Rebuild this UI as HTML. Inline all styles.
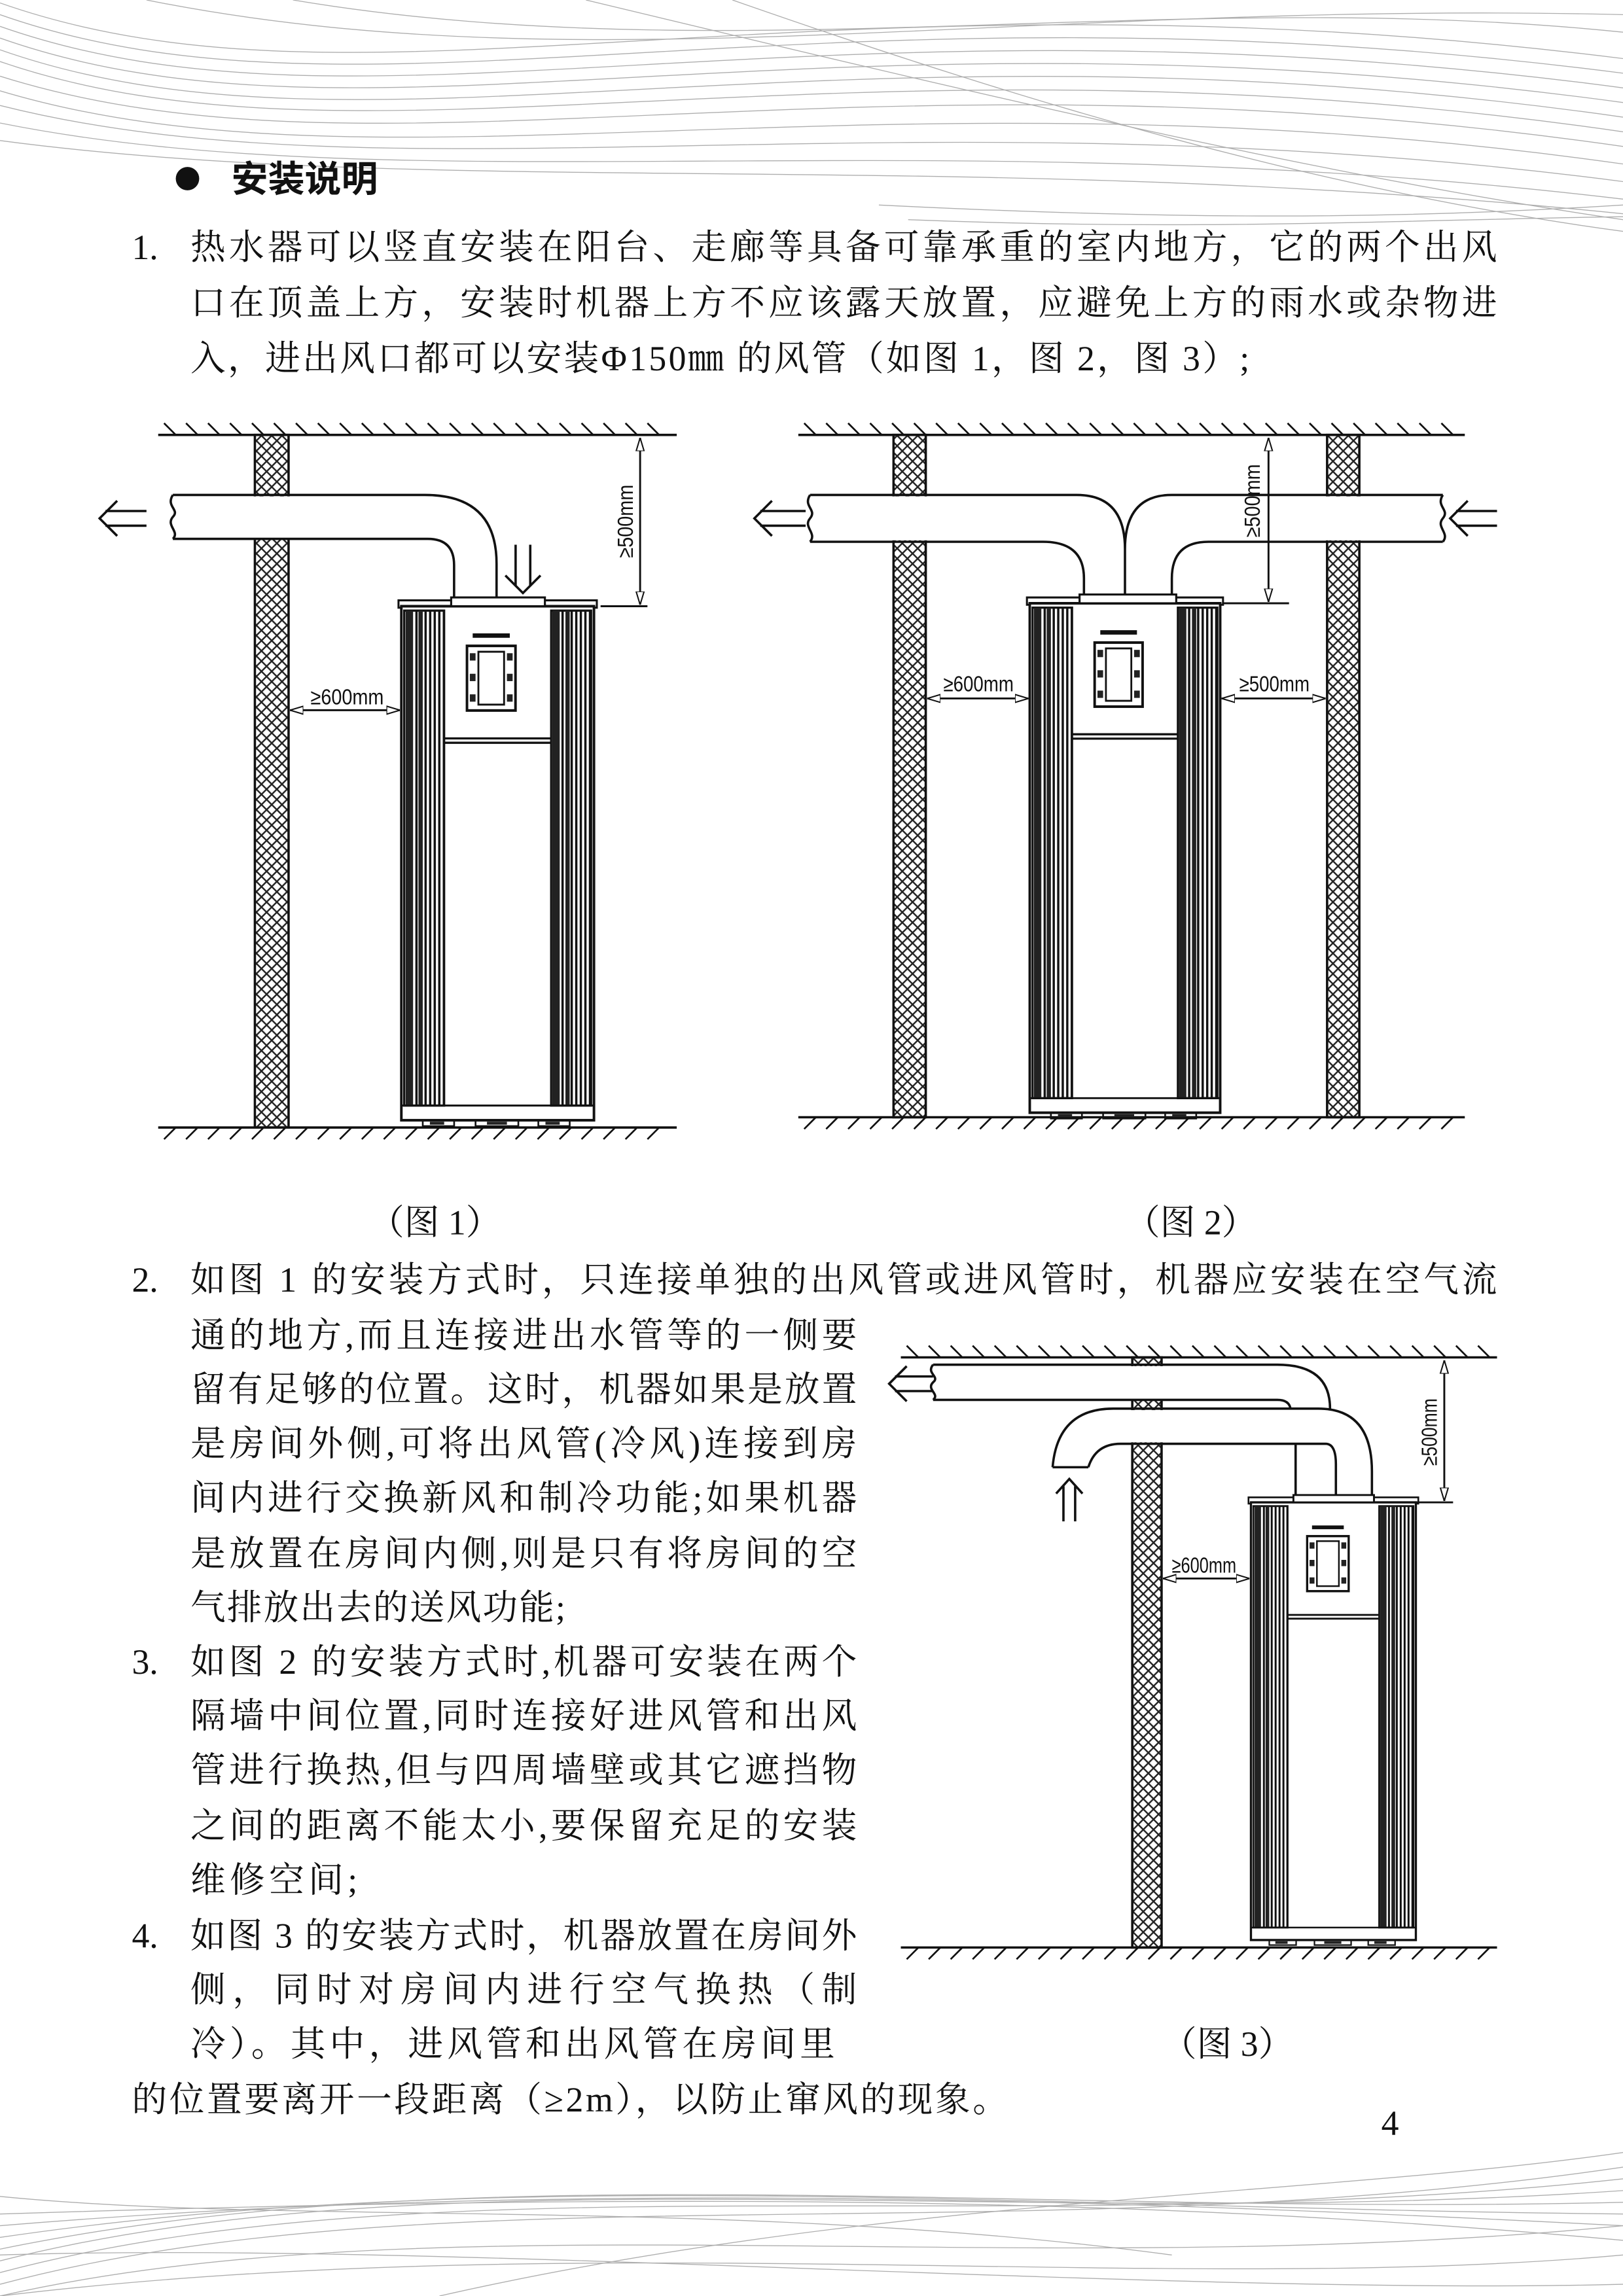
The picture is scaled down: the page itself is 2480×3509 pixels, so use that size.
<!DOCTYPE html>
<html><head><meta charset="utf-8"><style>
html,body{margin:0;padding:0;background:#fff;}
svg{display:block;}
.t{font-family:"Liberation Serif","Noto Serif CJK SC",serif;font-size:24px;fill:#111;}
.d{font-family:"Liberation Sans","Noto Sans CJK SC",sans-serif;font-size:15px;fill:#111;}
.l{fill:none;stroke:#111;stroke-width:1.6;}
</style></head><body>
<svg width="2480" height="3509" viewBox="0 0 1108 1568" preserveAspectRatio="none" xmlns="http://www.w3.org/2000/svg">
<defs>
<pattern id="xh" patternUnits="userSpaceOnUse" width="7" height="7">
<path d="M0,0 L7,7 M7,0 L0,7" stroke="#222" stroke-width="1.1"/>
</pattern>
<pattern id="vl" patternUnits="userSpaceOnUse" width="3.2" height="10">
<rect width="3.2" height="10" fill="#fff"/><line x1="1" y1="0" x2="1" y2="10" stroke="#111" stroke-width="1.6"/>
</pattern>
<marker id="ar" viewBox="0 0 10 10" refX="10" refY="5" markerWidth="7" markerHeight="7" orient="auto-start-reverse">
<path d="M0,2 L10,5 L0,8 Z" fill="#fff" stroke="#111" stroke-width="1"/>
</marker>
<g id="unit">
<rect x="-2" y="-4" width="139" height="5" fill="#fff" stroke="#111" stroke-width="1.4"/>
<rect x="0" y="0" width="135" height="350" fill="#fff" stroke="#111" stroke-width="1.8"/>
<rect x="2" y="3" width="28" height="337" fill="url(#vl)" stroke="#111" stroke-width="1.5"/>
<rect x="105" y="3" width="28" height="337" fill="url(#vl)" stroke="#111" stroke-width="1.5"/>
<rect x="3" y="3" width="5" height="337" fill="#222"/>
<rect x="106" y="3" width="5" height="337" fill="#222"/>
<rect x="12" y="3" width="3" height="337" fill="#222"/>
<rect x="115" y="3" width="3" height="337" fill="#222"/>
<line x1="30" y1="90" x2="105" y2="90" stroke="#111" stroke-width="1.5"/>
<line x1="30" y1="93" x2="105" y2="93" stroke="#111" stroke-width="1.5"/>
<line x1="0" y1="340" x2="135" y2="340" stroke="#111" stroke-width="1.3"/>
<path d="M50,20 h26" stroke="#111" stroke-width="3"/>
<rect x="46" y="27" width="34" height="44" fill="#fff" stroke="#111" stroke-width="1.8"/>
<rect x="54" y="31" width="18" height="36" fill="#fff" stroke="#111" stroke-width="1.3"/>
<rect x="48" y="32" width="4" height="5" fill="#222"/><rect x="48" y="46" width="4" height="5" fill="#222"/><rect x="48" y="60" width="4" height="5" fill="#222"/>
<rect x="74" y="32" width="4" height="5" fill="#222"/><rect x="74" y="46" width="4" height="5" fill="#222"/><rect x="74" y="60" width="4" height="5" fill="#222"/>
<path d="M15,350 v4 h22 v-4 M52,350 v4 h30 v-4 M96,350 v4 h22 v-4" fill="none" stroke="#111" stroke-width="1.2"/>
<rect x="20" y="351" width="10" height="2" fill="#222"/><rect x="60" y="351" width="14" height="2" fill="#222"/><rect x="101" y="351" width="10" height="2" fill="#222"/>
</g>
</defs>

<g fill="none" stroke="#9a9a9a" stroke-width="0.6" opacity="0.8">
<path d="M0,2 C250,90 550,-30 1108,40"/><path d="M0,10 C250,98 550,-22 1108,50"/><path d="M0,18 C250,106 550,-14 1108,60"/><path d="M0,26 C250,114 550,-6 1108,70"/><path d="M0,34 C250,122 560,2 1108,80"/><path d="M0,42 C250,128 570,12 1108,90"/><path d="M0,52 C260,134 580,24 1108,100"/><path d="M0,62 C260,140 600,40 1108,112"/><path d="M0,72 C270,140 620,60 1108,124"/><path d="M0,84 C280,140 640,80 1108,136"/><path d="M0,96 C300,136 660,100 1108,146"/>
<path d="M100,0 C400,60 700,0 1108,10"/><path d="M200,0 C500,50 800,-10 1108,22"/><path d="M400,0 C650,60 900,120 1108,150"/><path d="M500,0 C700,70 900,130 1108,158"/><path d="M600,140 C800,150 950,150 1108,140"/><path d="M620,150 C820,158 960,150 1108,148"/>
<path d="M0,1560 C300,1480 700,1540 1108,1480"/><path d="M0,1552 C300,1472 700,1532 1108,1488"/><path d="M0,1544 C300,1468 700,1524 1108,1496"/><path d="M0,1536 C320,1470 700,1514 1108,1504"/><path d="M0,1528 C340,1478 700,1508 1108,1512"/><path d="M0,1520 C360,1490 720,1500 1108,1520"/><path d="M0,1512 C380,1500 740,1496 1108,1530"/><path d="M0,1568 C300,1500 700,1560 1108,1520"/><path d="M0,1568 C400,1520 800,1568 1108,1540"/><path d="M0,1540 C300,1530 800,1568 1108,1560"/><path d="M300,1568 C600,1500 900,1500 1108,1470"/><path d="M0,1500 C200,1520 500,1500 800,1540"/>
</g>

<circle cx="128" cy="122" r="8" fill="#111"/>
<text x="158" y="131" style="font-family:'Liberation Sans','Noto Sans CJK SC',sans-serif;font-size:25px;font-weight:bold;fill:#111">安装说明</text>
<text class="t" x="90" y="177">1.</text>
<text class="t" x="130" y="177" textLength="892" lengthAdjust="spacing">热水器可以竖直安装在阳台、走廊等具备可靠承重的室内地方，它的两个出风</text>
<text class="t" x="130" y="215" textLength="892" lengthAdjust="spacing">口在顶盖上方，安装时机器上方不应该露天放置，应避免上方的雨水或杂物进</text>
<text class="t" x="130" y="253" textLength="723" lengthAdjust="spacing">入，进出风口都可以安装Φ150㎜ 的风管（如图 1，图 2，图 3）;</text>

<!-- FIG 1 -->
<path d="M108,297 H462 M108,770 H462" class="l"/>
<path d="M112,289 l8,8 M127,289 l8,8 M142,289 l8,8 M157,289 l8,8 M172,289 l8,8 M187,289 l8,8 M202,289 l8,8 M217,289 l8,8 M232,289 l8,8 M247,289 l8,8 M262,289 l8,8 M277,289 l8,8 M292,289 l8,8 M307,289 l8,8 M322,289 l8,8 M337,289 l8,8 M352,289 l8,8 M367,289 l8,8 M382,289 l8,8 M397,289 l8,8 M412,289 l8,8 M427,289 l8,8 M442,289 l8,8" stroke="#111" stroke-width="1.2"/>
<path d="M120,770 l-8,8 M135,770 l-8,8 M150,770 l-8,8 M165,770 l-8,8 M180,770 l-8,8 M195,770 l-8,8 M210,770 l-8,8 M225,770 l-8,8 M240,770 l-8,8 M255,770 l-8,8 M270,770 l-8,8 M285,770 l-8,8 M300,770 l-8,8 M315,770 l-8,8 M330,770 l-8,8 M345,770 l-8,8 M360,770 l-8,8 M375,770 l-8,8 M390,770 l-8,8 M405,770 l-8,8 M420,770 l-8,8 M435,770 l-8,8 M450,770 l-8,8" stroke="#111" stroke-width="1.2"/>
<rect x="174" y="297" width="23" height="473" fill="url(#xh)" stroke="#111" stroke-width="1.6"/>
<rect x="172" y="339" width="27" height="29" fill="#fff"/>
<path d="M118,338 H290 Q339,338 339,385 V408 M118,368 H292 Q310,368 310,386 V408" class="l"/>
<path d="M118,338 c-5,8 5,10 0,15 c-5,6 5,10 0,15" class="l"/>
<use href="#unit" transform="translate(274,414) scale(0.974,1.003)"/>
<rect x="308" y="408" width="64" height="6" fill="#fff" stroke="#111" stroke-width="1.4"/>
<path d="M80,342 L68,354 L80,366 M72,349 H100 M72,359 H100" class="l"/>
<path d="M345,393 L357,405 L369,393 M352,372 V400 M362,372 V400" class="l"/>
<line x1="437" y1="299" x2="437" y2="413" stroke="#111" stroke-width="1.3" marker-start="url(#ar)" marker-end="url(#ar)"/>
<line x1="410" y1="414" x2="442" y2="414" stroke="#111" stroke-width="1.3"/>
<text class="d" transform="translate(432,356) rotate(-90)" text-anchor="middle" textLength="50" lengthAdjust="spacingAndGlyphs">≥500mm</text>
<line x1="198" y1="485" x2="273" y2="485" stroke="#111" stroke-width="1.3" marker-start="url(#ar)" marker-end="url(#ar)"/>
<text class="d" x="237" y="481" text-anchor="middle" textLength="50" lengthAdjust="spacingAndGlyphs">≥600mm</text>

<!-- FIG 2 -->
<path d="M545,297 H1000 M545,763 H1000" class="l"/>
<path d="M549,289 l8,8 M564,289 l8,8 M579,289 l8,8 M594,289 l8,8 M609,289 l8,8 M624,289 l8,8 M639,289 l8,8 M654,289 l8,8 M669,289 l8,8 M684,289 l8,8 M699,289 l8,8 M714,289 l8,8 M729,289 l8,8 M744,289 l8,8 M759,289 l8,8 M774,289 l8,8 M789,289 l8,8 M804,289 l8,8 M819,289 l8,8 M834,289 l8,8 M849,289 l8,8 M864,289 l8,8 M879,289 l8,8 M894,289 l8,8 M909,289 l8,8 M924,289 l8,8 M939,289 l8,8 M954,289 l8,8 M969,289 l8,8 M984,289 l8,8" stroke="#111" stroke-width="1.2"/>
<path d="M557,763 l-8,8 M572,763 l-8,8 M587,763 l-8,8 M602,763 l-8,8 M617,763 l-8,8 M632,763 l-8,8 M647,763 l-8,8 M662,763 l-8,8 M677,763 l-8,8 M692,763 l-8,8 M707,763 l-8,8 M722,763 l-8,8 M737,763 l-8,8 M752,763 l-8,8 M767,763 l-8,8 M782,763 l-8,8 M797,763 l-8,8 M812,763 l-8,8 M827,763 l-8,8 M842,763 l-8,8 M857,763 l-8,8 M872,763 l-8,8 M887,763 l-8,8 M902,763 l-8,8 M917,763 l-8,8 M932,763 l-8,8 M947,763 l-8,8 M962,763 l-8,8 M977,763 l-8,8 M992,763 l-8,8" stroke="#111" stroke-width="1.2"/>
<rect x="610" y="297" width="22" height="466" fill="url(#xh)" stroke="#111" stroke-width="1.6"/>
<rect x="906" y="297" width="22" height="466" fill="url(#xh)" stroke="#111" stroke-width="1.6"/>
<rect x="608" y="339" width="26" height="30" fill="#fff"/>
<rect x="904" y="339" width="26" height="30" fill="#fff"/>
<path d="M553,370 H712 Q740,370 740,395 V408 M553,338 H735 Q768,338 768,375 V408 M985,370 H825 Q800,370 800,395 V408 M985,338 H800 Q768,338 768,375" class="l"/>
<path d="M553,338 c-5,8 5,10 0,16 c-5,6 5,10 0,16 M985,338 c-5,8 5,10 0,16 c-5,6 5,10 0,16" class="l"/>
<use href="#unit" transform="translate(703,412) scale(0.963,0.994)"/>
<rect x="737" y="406" width="66" height="6" fill="#fff" stroke="#111" stroke-width="1.4"/>
<path d="M527,342 L515,354 L527,366 M519,349 H550 M519,359 H550" class="l"/>
<path d="M1002,342 L990,354 L1002,366 M994,349 H1022 M994,359 H1022" class="l"/>
<line x1="866" y1="299" x2="866" y2="411" stroke="#111" stroke-width="1.3" marker-start="url(#ar)" marker-end="url(#ar)"/>
<line x1="835" y1="412" x2="880" y2="412" stroke="#111" stroke-width="1.3"/>
<text class="d" transform="translate(860,342) rotate(-90)" text-anchor="middle" textLength="50" lengthAdjust="spacingAndGlyphs">≥500mm</text>
<line x1="633" y1="477" x2="702" y2="477" stroke="#111" stroke-width="1.3" marker-start="url(#ar)" marker-end="url(#ar)"/>
<text class="d" x="668" y="472" text-anchor="middle" textLength="48" lengthAdjust="spacingAndGlyphs">≥600mm</text>
<line x1="834" y1="477" x2="905" y2="477" stroke="#111" stroke-width="1.3" marker-start="url(#ar)" marker-end="url(#ar)"/>
<text class="d" x="870" y="472" text-anchor="middle" textLength="48" lengthAdjust="spacingAndGlyphs">≥500mm</text>

<text class="t" x="252" y="843">（图 1）</text>
<text class="t" x="768" y="843">（图 2）</text>

<text class="t" x="90" y="882">2.</text>
<text class="t" x="130" y="882" textLength="892" lengthAdjust="spacing">如图 1 的安装方式时，只连接单独的出风管或进风管时，机器应安装在空气流</text>
<text class="t" x="130" y="920" textLength="455" lengthAdjust="spacing">通的地方,而且连接进出水管等的一侧要</text>
<text class="t" x="130" y="957" textLength="455" lengthAdjust="spacing">留有足够的位置。这时，机器如果是放置</text>
<text class="t" x="130" y="994" textLength="455" lengthAdjust="spacing">是房间外侧,可将出风管(冷风)连接到房</text>
<text class="t" x="130" y="1031" textLength="455" lengthAdjust="spacing">间内进行交换新风和制冷功能;如果机器</text>
<text class="t" x="130" y="1069" textLength="455" lengthAdjust="spacing">是放置在房间内侧,则是只有将房间的空</text>
<text class="t" x="130" y="1106" textLength="256" lengthAdjust="spacing">气排放出去的送风功能;</text>
<text class="t" x="90" y="1143">3.</text>
<text class="t" x="130" y="1143" textLength="455" lengthAdjust="spacing">如图 2 的安装方式时,机器可安装在两个</text>
<text class="t" x="130" y="1180" textLength="455" lengthAdjust="spacing">隔墙中间位置,同时连接好进风管和出风</text>
<text class="t" x="130" y="1217" textLength="455" lengthAdjust="spacing">管进行换热,但与四周墙壁或其它遮挡物</text>
<text class="t" x="130" y="1255" textLength="455" lengthAdjust="spacing">之间的距离不能太小,要保留充足的安装</text>
<text class="t" x="130" y="1292" textLength="114" lengthAdjust="spacing">维修空间;</text>
<text class="t" x="90" y="1330">4.</text>
<text class="t" x="130" y="1330" textLength="455" lengthAdjust="spacing">如图 3 的安装方式时，机器放置在房间外</text>
<text class="t" x="130" y="1367" textLength="455" lengthAdjust="spacing">侧，同时对房间内进行空气换热（制</text>
<text class="t" x="130" y="1404" textLength="440" lengthAdjust="spacing">冷）。其中，进风管和出风管在房间里</text>
<text class="t" x="90" y="1442" textLength="598" lengthAdjust="spacing">的位置要离开一段距离（≥2m），以防止窜风的现象。</text>
<text class="t" x="793" y="1404">（图 3）</text>
<text class="t" x="943" y="1458">4</text>

<!-- FIG 3 -->
<path d="M615,927 H1022 M615,1330 H1022" class="l"/>
<path d="M619,919 l8,8 M634,919 l8,8 M649,919 l8,8 M664,919 l8,8 M679,919 l8,8 M694,919 l8,8 M709,919 l8,8 M724,919 l8,8 M739,919 l8,8 M754,919 l8,8 M769,919 l8,8 M784,919 l8,8 M799,919 l8,8 M814,919 l8,8 M829,919 l8,8 M844,919 l8,8 M859,919 l8,8 M874,919 l8,8 M889,919 l8,8 M904,919 l8,8 M919,919 l8,8 M934,919 l8,8 M949,919 l8,8 M964,919 l8,8 M979,919 l8,8 M994,919 l8,8 M1009,919 l8,8" stroke="#111" stroke-width="1.2"/>
<path d="M627,1330 l-8,8 M642,1330 l-8,8 M657,1330 l-8,8 M672,1330 l-8,8 M687,1330 l-8,8 M702,1330 l-8,8 M717,1330 l-8,8 M732,1330 l-8,8 M747,1330 l-8,8 M762,1330 l-8,8 M777,1330 l-8,8 M792,1330 l-8,8 M807,1330 l-8,8 M822,1330 l-8,8 M837,1330 l-8,8 M852,1330 l-8,8 M867,1330 l-8,8 M882,1330 l-8,8 M897,1330 l-8,8 M912,1330 l-8,8 M927,1330 l-8,8 M942,1330 l-8,8 M957,1330 l-8,8 M972,1330 l-8,8 M987,1330 l-8,8 M1002,1330 l-8,8 M1017,1330 l-8,8" stroke="#111" stroke-width="1.2"/>
<rect x="773" y="927" width="20" height="403" fill="url(#xh)" stroke="#111" stroke-width="1.6"/>
<rect x="771" y="933" width="24" height="23" fill="#fff"/>
<rect x="771" y="963" width="24" height="22" fill="#fff"/>
<path d="M637,932 H872 Q908,932 908,962 M637,956 H872 Q880,956 881,962" class="l"/>
<path d="M637,932 c-5,6 5,8 0,12 c-5,5 5,8 0,12" class="l"/>
<path d="M718.6,1002 Q722,962 760,962 H900 Q936.6,962 936.6,1005 V1023 M743,1002 Q748,986 765,986 H905 Q912,986 912,1000 V1023 M718.6,1002 H743 M884.5,986 V1023" class="l"/>
<use href="#unit" transform="translate(854,1026) scale(0.834,0.854)"/>
<rect x="883" y="1021" width="55" height="5" fill="#fff" stroke="#111" stroke-width="1.3"/>
<path d="M619,933 L607,945 L619,957 M611,940 H637 M611,950 H637" class="l"/>
<path d="M721,1020 L730,1010 L739,1020 M726,1015 V1039 M734,1015 V1039" class="l"/>
<line x1="986" y1="929" x2="986" y2="1025" stroke="#111" stroke-width="1.3" marker-start="url(#ar)" marker-end="url(#ar)"/>
<line x1="966" y1="1026" x2="992" y2="1026" stroke="#111" stroke-width="1.3"/>
<text class="d" transform="translate(981,978) rotate(-90)" text-anchor="middle" textLength="46" lengthAdjust="spacingAndGlyphs">≥500mm</text>
<line x1="794" y1="1078" x2="853" y2="1078" stroke="#111" stroke-width="1.3" marker-start="url(#ar)" marker-end="url(#ar)"/>
<text class="d" x="822" y="1074" text-anchor="middle" textLength="44" lengthAdjust="spacingAndGlyphs">≥600mm</text>
</svg>
</body></html>
